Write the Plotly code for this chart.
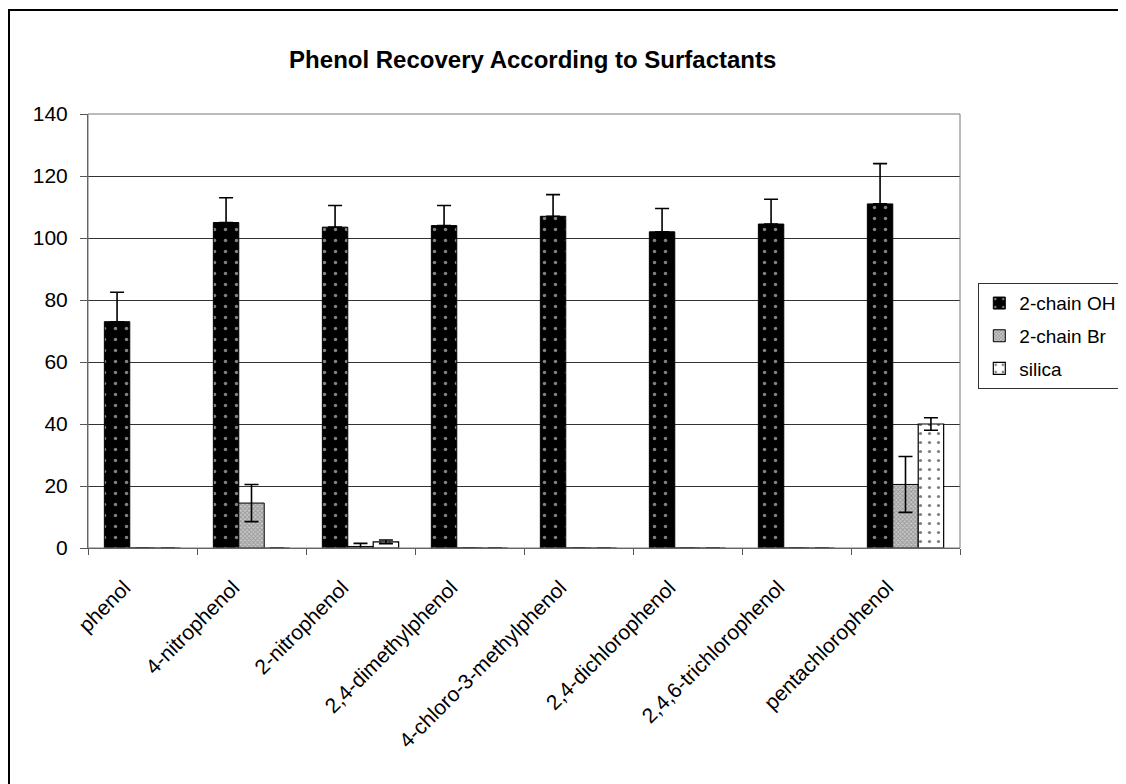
import plotly.graph_objects as go

categories = ["phenol", "4-nitrophenol", "2-nitrophenol", "2,4-dimethylphenol",
              "4-chloro-3-methylphenol", "2,4-dichlorophenol", "2,4,6-trichlorophenol",
              "pentachlorophenol"]
oh_vals = [73, 105, 103.5, 104, 107, 102, 104.5, 111]
oh_err = [9.5, 8, 7, 6.5, 7, 7.5, 8, 13]
br_vals = [0, 14.5, 0.5, 0, 0, 0, 0, 20.5]
br_err = [0, 6, 1, 0, 0, 0, 0, 9]
si_vals = [0, 0, 2, 0, 0, 0, 0, 40]
si_err = [0, 0, 0.6, 0, 0, 0, 0, 2]
y_ticks = [0, 20, 40, 60, 80, 100, 120, 140]

FONT = "Liberation Sans, Arial, sans-serif"

fig = go.Figure()
fig.add_trace(go.Bar(
    name="2-chain OH", x=categories, y=oh_vals, legendgroup="a",
    error_y=dict(type="data", array=oh_err, symmetric=False, arrayminus=[0]*8,
                 color="black", thickness=1.6, width=7),
    marker=dict(color="black", line=dict(color="black", width=1),
                pattern=dict(shape=".", fgcolor="white", bgcolor="black", size=11, solidity=0.08)),
))
fig.add_trace(go.Bar(
    name="2-chain Br", x=categories, y=br_vals, legendgroup="b",
    error_y=dict(type="data", array=br_err, color="black", thickness=1.6, width=7),
    marker=dict(color="#999999", line=dict(color="black", width=1),
                pattern=dict(shape="x", fgcolor="#666666", bgcolor="#c8c8c8", size=3, solidity=0.5)),
))
fig.add_trace(go.Bar(
    name="silica", x=categories, y=si_vals, legendgroup="c",
    error_y=dict(type="data", array=si_err, color="black", thickness=1.6, width=7),
    marker=dict(color="white", line=dict(color="black", width=1.2),
                pattern=dict(shape=".", fgcolor="black", bgcolor="white", size=9, solidity=0.1)),
))

fig.update_layout(
    width=1126, height=784,
    paper_bgcolor="white", plot_bgcolor="white",
    font=dict(family=FONT, color="black", size=18),
    title=dict(text="<b>Phenol Recovery According to Surfactants</b>",
               x=0.51, xanchor="center", xref="paper", y=0.934, yref="container",
               yanchor="middle", font=dict(size=24, family=FONT)),
    barmode="group", bargap=0.30, bargroupgap=0,
    margin=dict(l=80, r=174, t=106, b=244, autoexpand=False),
    showlegend=True,
    legend=dict(x=1.021, y=0.488, xanchor="left", yanchor="middle",
                bordercolor="#333", borderwidth=1, bgcolor="white",
                font=dict(size=19, family=FONT), itemwidth=30, tracegroupgap=5),
    xaxis=dict(showline=True, linecolor="#555", mirror=False, ticks="outside",
               tickson="boundaries", ticklen=6, tickcolor="#555", tickangle=-45,
               tickfont=dict(size=21), showgrid=False, automargin=False,
               ticklabelstandoff=18, ticklabelshift=-18),
    yaxis=dict(range=[0, 140], tickvals=y_ticks, showline=True, linecolor="#555",
               ticks="outside", ticklen=7, tickcolor="#555", gridcolor="#333",
               gridwidth=1, zeroline=False, tickfont=dict(size=21), automargin=False,
               ticklabelstandoff=8),
)
# plot area border
fig.add_shape(type="rect", xref="paper", yref="paper", x0=0, y0=0, x1=1, y1=1,
              line=dict(color="#777", width=1))
# outer border
fig.add_shape(type="rect", xref="paper", yref="paper", x0=-0.0906, y0=-0.7, x1=1.3, y1=1.2396,
              line=dict(color="black", width=2))

fig.write_html("out.html")
